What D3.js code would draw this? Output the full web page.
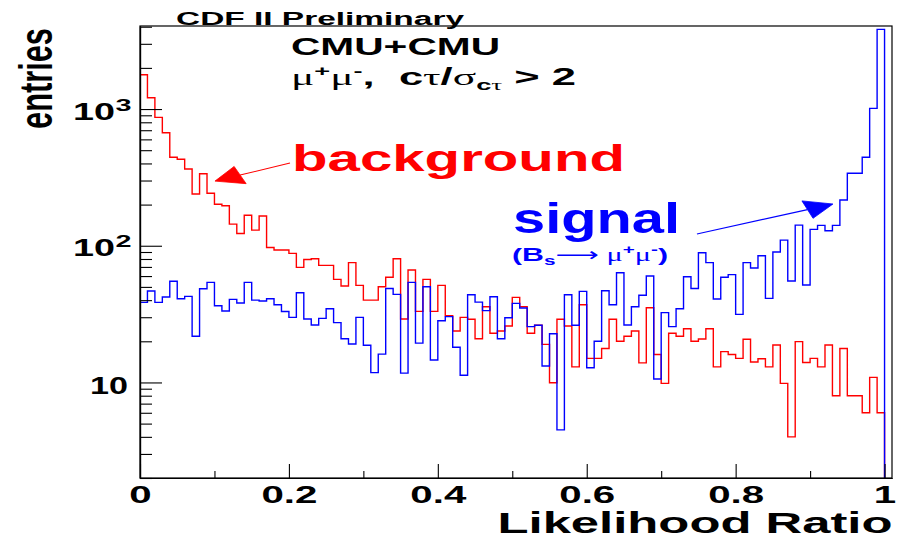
<!DOCTYPE html>
<html>
<head>
<meta charset="utf-8">
<script src="https://cdn.jsdelivr.net/npm/d3@7"></script>
<style>
  body { margin: 0; background: #fff; }
  svg { display: block; }
  text { font-family: "Liberation Sans", Arial, Helvetica, sans-serif; font-weight: bold; }
</style>
</head>
<body>
<svg id="chart" width="910" height="538"></svg>
<script>
// Likelihood-ratio distributions, 100 bins on [0, 1]
const binLow = 0;
const binHigh = 1;
const axisHigh = 1.01;
const yFloor = 2;
const yCeil = 4050;

// background (sideband) entries per bin
const background = [
  1782, 1210, 869, 671, 444, 429, 364, 239, 336, 242,
  201, 196, 144, 123, 167, 130, 165, 97, 93, 93,
  88, 69.5, 79.4, 80.3, 71.9, 71.9, 56.8, 50.7, 75.2, 51.3,
  40, 40, 50.1, 58.8, 80.3, 29.1, 66.4, 33.1, 56.8, 33.1,
  51.3, 30.8, 23.8, 29.9, 29, 20.9, 35.8, 22.9, 23.8, 25.9,
  41.9, 35.8, 22.9, 26.2, 19, 9.95, 29, 25.9, 13, 37,
  15, 15, 17.7, 29, 20, 21.8, 23.8, 13.9, 35.2, 16,
  9.85, 22.9, 21.8, 24.7, 20, 20.8, 24.7, 13, 16.8, 16,
  15, 20.7, 14.1, 14.9, 13, 18.8, 9.85, 4, 19.9, 14,
  15, 13, 18.8, 8, 17.7, 8, 8, 6, 10.9, 6
];

// signal (Bs -> mu+ mu- Monte Carlo) entries per bin
const signal = [
  38.5, 46.7, 38.5, 42.2, 55, 41, 42.6, 21.8, 48.5, 54,
  36.4, 33.3, 40.5, 38.1, 54, 40, 39.4, 41, 37, 33,
  29.9, 45.3, 29.1, 26.3, 29.4, 34.6, 27.4, 20.9, 19.1, 29.9,
  18.7, 11.8, 16.1, 48.7, 44.1, 11.7, 54, 19.4, 50.1, 14.6,
  28.3, 30.3, 18.1, 11.3, 43.8, 38.7, 33.5, 42.4, 20.9, 29.7,
  37.9, 35, 25.6, 26.2, 13.2, 22.7, 4.5, 43.8, 26.2, 46.4,
  12.8, 20, 46.9, 37, 63.5, 26.3, 35.8, 43.4, 60, 10.6,
  32.4, 25.6, 34.6, 59.3, 48.7, 88.9, 75.2, 40.8, 58.8, 61.5,
  31.5, 75.2, 68.7, 84.5, 41.2, 90, 110, 55.2, 141.6, 51.6,
  131.8, 140.9, 128.8, 140.9, 216, 339, 339, 444, 1012, 3828
];

const xMajorTicks = [0, 0.2, 0.4, 0.6, 0.8, 1];
const xMajorLabels = ["0", "0.2", "0.4", "0.6", "0.8", "1"];
const xMinorTicks = [0.1, 0.3, 0.5, 0.7, 0.9];
const yMajorTicks = [10, 100, 1000];
const yLabelBase = ["10", "10", "10"];
const yLabelExp = ["", "2", "3"];
const yMinorTicks = [2, 3, 4, 5, 6, 7, 8, 9, 20, 30, 40, 50, 60, 70, 80, 90,
  200, 300, 400, 500, 600, 700, 800, 900, 2000, 3000, 4000];

// annotation arrows, [x, entries] from tail to tip
const bgArrow = [[0.2015, 403], [0.1007, 297]];
const sigArrow = [[0.748, 122], [0.9307, 202]];

const frame = { left: 140, right: 892, top: 26, bottom: 478 };
const svg = d3.select("#chart");

const x = d3.scaleLinear().domain([binLow, axisHigh]).range([frame.left, frame.right]);
const y = d3.scaleLog().domain([yFloor, yCeil]).range([frame.bottom, frame.top]);

svg.append("defs").append("clipPath").attr("id", "plotArea")
  .append("rect")
  .attr("x", frame.left).attr("y", frame.top)
  .attr("width", frame.right - frame.left).attr("height", frame.bottom - frame.top);

// step outline of a histogram, closed down to the axis floor at both ends
function outline(vals) {
  const w = (binHigh - binLow) / vals.length;
  const pts = [[binLow, yFloor]];
  vals.forEach((v, i) => {
    pts.push([binLow + i * w, v]);
    pts.push([binLow + (i + 1) * w, v]);
  });
  pts.push([binHigh, yFloor]);
  return pts;
}
const line = d3.line().x(d => x(d[0])).y(d => y(d[1]));

const plot = svg.append("g").attr("clip-path", "url(#plotArea)");
plot.append("path").attr("d", line(outline(background)))
  .attr("fill", "none").attr("stroke", "#ff0000").attr("stroke-width", 1.4);
plot.append("path").attr("d", line(outline(signal)))
  .attr("fill", "none").attr("stroke", "#0000ff").attr("stroke-width", 1.4);

// frame
svg.append("rect")
  .attr("x", frame.left).attr("y", frame.top)
  .attr("width", frame.right - frame.left).attr("height", frame.bottom - frame.top)
  .attr("fill", "none").attr("stroke", "#000").attr("stroke-width", 1.2);

// x axis: major and minor ticks pointing into the frame
const xAxisG = svg.append("g").attr("transform", `translate(0,${frame.bottom})`);
xAxisG.call(d3.axisBottom(x).tickValues(xMajorTicks).tickSizeInner(-14).tickSizeOuter(0)
  .tickFormat((d, i) => xMajorLabels[i]));
const xMinorG = svg.append("g").attr("transform", `translate(0,${frame.bottom})`);
xMinorG.call(d3.axisBottom(x).tickValues(xMinorTicks).tickSizeInner(-7).tickSizeOuter(0)
  .tickFormat(""));
[xAxisG, xMinorG].forEach(g => {
  g.select(".domain").attr("stroke", "#000").attr("stroke-width", 1.2);
  g.selectAll(".tick line").attr("stroke", "#000").attr("stroke-width", 1.1);
});
xAxisG.selectAll(".tick text")
  .attr("y", 0).attr("dy", 0)
  .attr("transform", "translate(0,25.3)")
  .style("font-size", "23px").style("font-weight", "bold")
  .style("font-family", "'Liberation Sans', Arial, sans-serif")
  .attr("fill", "#000")
  .each(function () {
    const w = this.getComputedTextLength();
    d3.select(this).attr("textLength", w * 1.75).attr("lengthAdjust", "spacingAndGlyphs");
  });

// y axis (log): major and minor ticks
const yAxisG = svg.append("g").attr("transform", `translate(${frame.left},0)`);
yAxisG.call(d3.axisLeft(y).tickValues(yMajorTicks).tickSizeInner(-22).tickSizeOuter(0).tickFormat(""));
const yMinorG = svg.append("g").attr("transform", `translate(${frame.left},0)`);
yMinorG.call(d3.axisLeft(y).tickValues(yMinorTicks).tickSizeInner(-12).tickSizeOuter(0).tickFormat(""));
[yAxisG, yMinorG].forEach(g => {
  g.select(".domain").attr("stroke", "#000").attr("stroke-width", 1.2);
  g.selectAll(".tick line").attr("stroke", "#000").attr("stroke-width", 1.1);
});

// y tick labels as powers of ten
const yLabels = svg.append("g");
yMajorTicks.forEach((v, i) => {
  const yy = y(v);
  if (yLabelExp[i]) {
    yLabels.append("text").attr("x", 115).attr("y", yy + 10.5)
      .attr("text-anchor", "end").style("font-size", "23px")
      .attr("textLength", 42).attr("lengthAdjust", "spacingAndGlyphs")
      .text(yLabelBase[i]);
    yLabels.append("text").attr("x", 115.5).attr("y", yy + 1.7)
      .style("font-size", "17px")
      .attr("textLength", 16).attr("lengthAdjust", "spacingAndGlyphs")
      .text(yLabelExp[i]);
  } else {
    yLabels.append("text").attr("x", 128).attr("y", yy + 12)
      .attr("text-anchor", "end").style("font-size", "23px")
      .attr("textLength", 38).attr("lengthAdjust", "spacingAndGlyphs")
      .text(yLabelBase[i]);
  }
});

// axis titles
svg.append("text")
  .attr("x", 892.5).attr("y", 533.3).attr("text-anchor", "end")
  .style("font-size", "30px")
  .attr("textLength", 395).attr("lengthAdjust", "spacingAndGlyphs")
  .text("Likelihood Ratio");
// tall, narrow vertical title: set the run length by font size, stretch the glyph height
svg.append("text")
  .attr("transform", "translate(52,129) rotate(-90) scale(1,1.52)")
  .style("font-size", "31px")
  .attr("textLength", 101).attr("lengthAdjust", "spacingAndGlyphs")
  .text("entries");

// header texts
svg.append("text")
  .attr("x", 176).attr("y", 25.3).style("font-size", "17.5px")
  .attr("textLength", 288).attr("lengthAdjust", "spacingAndGlyphs")
  .text("CDF II Preliminary");
svg.append("text")
  .attr("x", 291).attr("y", 55).style("font-size", "24px")
  .attr("textLength", 209).attr("lengthAdjust", "spacingAndGlyphs")
  .text("CMU+CMU");

const serif = "'Liberation Serif', 'DejaVu Serif', serif";
const sel = svg.append("text")
  .attr("x", 291).attr("y", 85).style("font-size", "24px")
  .attr("textLength", 285).attr("lengthAdjust", "spacingAndGlyphs");
sel.append("tspan").style("font-family", serif).style("font-weight", "normal").text("\u03bc");
sel.append("tspan").attr("dy", -9).style("font-size", "15px").text("+");
sel.append("tspan").attr("dy", 9).style("font-family", serif).style("font-weight", "normal").text("\u03bc");
sel.append("tspan").attr("dy", -9).style("font-size", "15px").text("-");
sel.append("tspan").attr("dy", 9).text(",\u00a0\u00a0c");
sel.append("tspan").style("font-family", serif).style("font-weight", "normal").text("\u03c4");
sel.append("tspan").text("/");
sel.append("tspan").style("font-family", serif).style("font-weight", "normal").text("\u03c3");
sel.append("tspan").attr("dy", 5).style("font-size", "15px").text("c");
sel.append("tspan").style("font-size", "15px").style("font-family", serif).style("font-weight", "normal").text("\u03c4");
sel.append("tspan").attr("dy", -5).text("\u00a0>\u00a02");

// histogram labels
svg.append("text")
  .attr("x", 292).attr("y", 170.7).style("font-size", "37px").attr("fill", "#ff0000")
  .attr("textLength", 333).attr("lengthAdjust", "spacingAndGlyphs")
  .text("background");
svg.append("text")
  .attr("x", 513).attr("y", 233.3).style("font-size", "42px").attr("fill", "#0000ff")
  .attr("textLength", 167).attr("lengthAdjust", "spacingAndGlyphs")
  .text("signal");
const sub = svg.append("text")
  .attr("x", 512).attr("y", 261).style("font-size", "19px").attr("fill", "#0000ff")
  .attr("textLength", 156).attr("lengthAdjust", "spacingAndGlyphs");
sub.append("tspan").text("(B");
sub.append("tspan").attr("dy", 4).style("font-size", "13px").text("s");
sub.append("tspan").attr("dy", -4).style("font-family", "'DejaVu Sans', sans-serif").style("font-weight", "normal").text("\u27f6");
sub.append("tspan").style("font-family", serif).style("font-weight", "normal").text("\u00a0\u03bc");
sub.append("tspan").attr("dy", -7).style("font-size", "13px").text("+");
sub.append("tspan").attr("dy", 7).style("font-family", serif).style("font-weight", "normal").text("\u03bc");
sub.append("tspan").attr("dy", -7).style("font-size", "13px").text("-");
sub.append("tspan").attr("dy", 7).text(")");

// arrows with filled heads; heads are shaped in an aspect-corrected frame
function arrow(a, color) {
  const F = [x(a[0][0]), y(a[0][1])];
  const T = [x(a[1][0]), y(a[1][1])];
  const s = 1.7, L = 16, h = 9.3;
  const dx = (T[0] - F[0]) / s, dy = T[1] - F[1];
  const len = Math.hypot(dx, dy);
  const ux = dx / len, uy = dy / len;
  const bx = -ux * L, by = -uy * L;
  const p1 = [T[0] + (bx - uy * h) * s, T[1] + by + ux * h];
  const p2 = [T[0] + (bx + uy * h) * s, T[1] + by - ux * h];
  const base = [(p1[0] + p2[0]) / 2, (p1[1] + p2[1]) / 2];
  svg.append("line")
    .attr("x1", F[0]).attr("y1", F[1]).attr("x2", base[0]).attr("y2", base[1])
    .attr("stroke", color).attr("stroke-width", 1.1);
  svg.append("path")
    .attr("d", `M${T[0]},${T[1]}L${p1[0]},${p1[1]}L${p2[0]},${p2[1]}Z`)
    .attr("fill", color).attr("stroke", color).attr("stroke-width", 0.8);
}
arrow(bgArrow, "#ff0000");
arrow(sigArrow, "#0000ff");
</script>
</body>
</html>
